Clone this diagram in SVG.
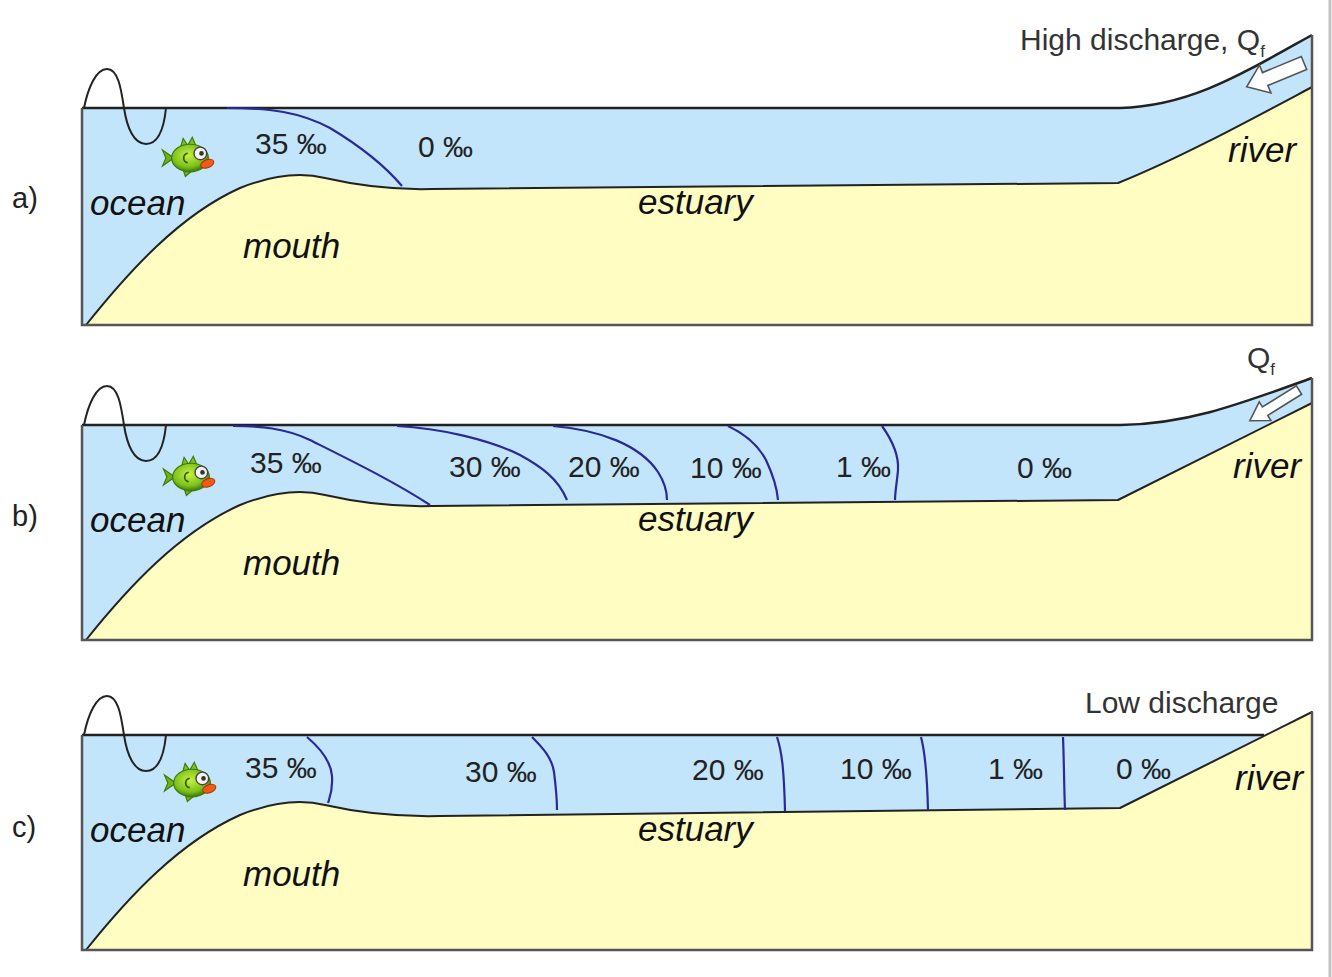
<svg xmlns="http://www.w3.org/2000/svg" width="1332" height="977" viewBox="0 0 1332 977">
  <style>
    .water { fill: #c3e5fb; }
    .sand { fill: #fffdc2; stroke: #222; stroke-width: 2; stroke-linejoin: round; }
    .surface { fill: none; stroke: #222; stroke-width: 2.5; }
    .frame { fill: none; stroke: #555; stroke-width: 2.5; }
    .iso { fill: none; stroke: #2a2a96; stroke-width: 2.2; }
    .wave { fill: none; stroke: #222; stroke-width: 2; }
    .num { font-family: "Liberation Sans", Arial, sans-serif; font-size: 30px; fill: #222; }
    .place { font-family: "Liberation Sans", Arial, sans-serif; font-size: 35px; font-style: italic; fill: #111; }
    .tag { font-family: "Liberation Sans", Arial, sans-serif; font-size: 29px; fill: #222; }
    .note { font-family: "Liberation Sans", Arial, sans-serif; font-size: 30px; fill: #333; }
    .flow { fill: #ffffff; stroke: #555; stroke-width: 1.6; stroke-linejoin: miter; }
  </style>
  <defs>
    <radialGradient id="fishBody" cx="0.45" cy="0.4" r="0.6">
      <stop offset="0" stop-color="#c8f040"/>
      <stop offset="0.7" stop-color="#7cc21c"/>
      <stop offset="1" stop-color="#3f7a0c"/>
    </radialGradient>
    <g id="fish">
      <!-- tail fin -->
      <path d="M-14,0 L-24,-7 L-21,0 L-24,7 Z" fill="#6fb21a" stroke="#3f7a0c" stroke-width="1"/>
      <!-- top fin -->
      <path d="M-8,-10 L-6,-17 L-2,-11 L2,-18 L5,-11 Z" fill="#7cc21c" stroke="#3f7a0c" stroke-width="1"/>
      <!-- bottom fin -->
      <path d="M-6,10 L-4,16 L2,11 Z" fill="#6fb21a" stroke="#3f7a0c" stroke-width="1"/>
      <ellipse cx="0" cy="0" rx="16" ry="12" fill="url(#fishBody)" stroke="#3f7a0c" stroke-width="1"/>
      <!-- gill mark -->
      <path d="M-2,-4 A3.5,4 0 1,0 -2,4" fill="none" stroke="#2f5a08" stroke-width="1.5"/>
      <!-- eye -->
      <circle cx="9" cy="-4" r="5.5" fill="#f4f4f4" stroke="#444" stroke-width="1.2"/>
      <circle cx="10" cy="-4" r="2" fill="#333"/>
      <!-- lips -->
      <ellipse cx="15" cy="5" rx="6" ry="3.5" fill="#f05a14" stroke="#a83000" stroke-width="0.8" transform="rotate(-20 15 5)"/>
    </g>
  </defs>

  <rect width="1332" height="977" fill="#ffffff"/>
  <line x1="1330" y1="0" x2="1330" y2="977" stroke="#c4c4c4" stroke-width="3"/>

  <!-- Panel a: high discharge -->
  <g id="panel-a">
    <path class="water" d="M82,108 L1120,108 C1190,106 1240,75 1312,35 L1312,325 L82,325 Z"/>
    <path class="sand" d="M86,325 C130,270 180,215 240,188 C270,176 300,172 325,178 C360,186 395,190 432,189 L1118,183 C1180,158 1250,120 1312,87 L1312,325 Z"/>
    <path class="surface" d="M82,108 L1120,108 C1190,106 1240,75 1312,35"/>
    <path class="frame" d="M82,108 L82,325 L1312,325 L1312,35"/>
    <path class="iso" d="M227,108 C270,108 300,112 330,128 C360,146 385,166 402,186"/>
    <path class="wave" d="M84,108 C88,88 96,69 107,69 C118,69 121,88 124,108 C127,128 134,144 146,144 C158,144 164,128 166,108"/>
    <use href="#fish" transform="translate(190 158) scale(1.15)"/>
    <polygon class="flow" points="0,-7 42,-7 42,-15 62,0 42,15 42,7 0,7" transform="translate(1304,63) rotate(157.5)"/>
    <text class="num" x="255" y="154">35 ‰</text>
    <text class="num" x="418" y="157">0 ‰</text>
    <text class="place" x="90" y="215">ocean</text>
    <text class="place" x="243" y="258">mouth</text>
    <text class="place" x="638" y="214">estuary</text>
    <text class="place" x="1228" y="162">river</text>
    <text class="tag" x="12" y="208">a)</text>
    <text class="note" x="1020" y="50">High discharge, Q<tspan font-size="17" dy="7">f</tspan></text>
  </g>

  <!-- Panel b: moderate discharge -->
  <g id="panel-b">
    <path class="water" d="M82,425 L1120,425 C1190,424 1245,402 1312,378 L1312,640 L82,640 Z"/>
    <path class="sand" d="M86,640 C130,585 180,532 240,505 C270,493 300,489 325,495 C360,503 395,507 432,506 L1118,500 L1312,403 L1312,640 Z"/>
    <path class="surface" d="M82,425 L1120,425 C1190,424 1245,402 1312,378"/>
    <path class="frame" d="M82,425 L82,640 L1312,640 L1312,378"/>
    <path class="iso" d="M233,426 C260,426 285,428 310,440 C350,460 395,482 430,505"/>
    <path class="iso" d="M397,426 C440,428 490,440 520,455 C540,466 558,478 567,500"/>
    <path class="iso" d="M553,426 C600,430 640,445 658,472 C665,483 667,492 667,500"/>
    <path class="iso" d="M728,426 C745,434 758,445 766,460 C773,475 777,488 778,500"/>
    <path class="iso" d="M882,426 C892,440 899,455 898,470 C897,482 895,492 895,500"/>
    <path class="wave" d="M84,425 C88,405 96,386 107,386 C118,386 121,405 124,425 C127,445 134,461 146,461 C158,461 164,445 166,425"/>
    <use href="#fish" transform="translate(191 477) scale(1.15)"/>
    <polygon class="flow" points="0,-5 40,-5 40,-11 58,0 40,11 40,5 0,5" transform="translate(1299,390) rotate(148)"/>
    <text class="num" x="250" y="473">35 ‰</text>
    <text class="num" x="449" y="477">30 ‰</text>
    <text class="num" x="568" y="477">20 ‰</text>
    <text class="num" x="690" y="478">10 ‰</text>
    <text class="num" x="836" y="477">1 ‰</text>
    <text class="num" x="1017" y="478">0 ‰</text>
    <text class="place" x="90" y="532">ocean</text>
    <text class="place" x="243" y="575">mouth</text>
    <text class="place" x="638" y="531">estuary</text>
    <text class="place" x="1233" y="478">river</text>
    <text class="tag" x="12" y="526">b)</text>
    <text class="note" x="1247" y="368">Q<tspan font-size="17" dy="7">f</tspan></text>
  </g>

  <!-- Panel c: low discharge -->
  <g id="panel-c">
    <path class="water" d="M82,735 L1264,735 L1312,712 L1312,950 L82,950 Z"/>
    <path class="sand" d="M86,950 C130,895 180,842 240,815 C270,803 300,799 325,805 C360,813 395,817 440,816 L1120,808 L1312,712 L1312,950 Z"/>
    <path class="surface" d="M82,735 L1264,735"/>
    <path class="frame" d="M82,735 L82,950 L1312,950 L1312,712"/>
    <path class="iso" d="M307,737 C320,748 331,762 332,776 C333,790 330,797 328,803"/>
    <path class="iso" d="M532,737 C543,748 552,758 554,772 C556,788 557,800 557,810"/>
    <path class="iso" d="M777,737 C782,752 784,770 785,811"/>
    <path class="iso" d="M921,737 C925,752 927,770 928,810"/>
    <path class="iso" d="M1063,737 C1064,760 1064,785 1065,810"/>
    <path class="wave" d="M84,735 C88,715 96,696 107,696 C118,696 121,715 124,735 C127,755 134,771 146,771 C158,771 164,755 166,735"/>
    <use href="#fish" transform="translate(192 783) scale(1.15)"/>
    <text class="num" x="245" y="778">35 ‰</text>
    <text class="num" x="465" y="782">30 ‰</text>
    <text class="num" x="692" y="780">20 ‰</text>
    <text class="num" x="840" y="779">10 ‰</text>
    <text class="num" x="988" y="779">1 ‰</text>
    <text class="num" x="1116" y="779">0 ‰</text>
    <text class="place" x="90" y="842">ocean</text>
    <text class="place" x="243" y="886">mouth</text>
    <text class="place" x="638" y="841">estuary</text>
    <text class="place" x="1235" y="790">river</text>
    <text class="tag" x="12" y="837">c)</text>
    <text class="note" x="1085" y="713">Low discharge</text>
  </g>
</svg>
